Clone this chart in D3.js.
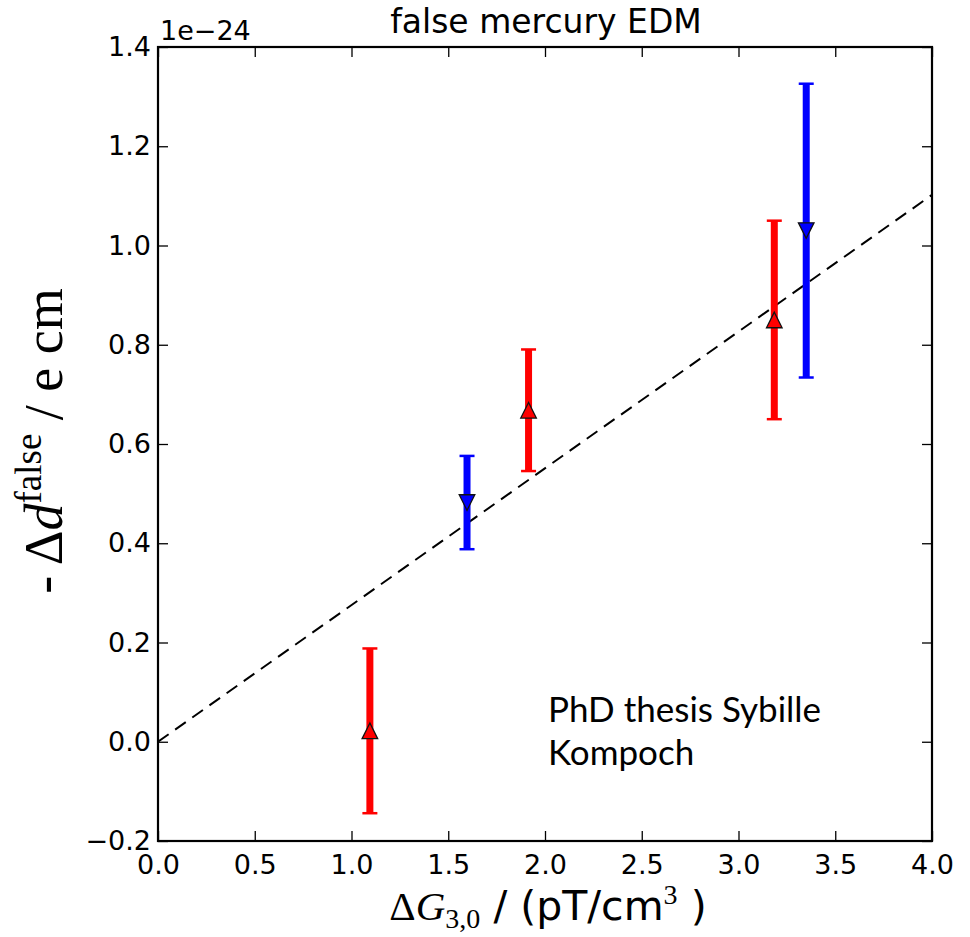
<!DOCTYPE html>
<html>
<head>
<meta charset="utf-8">
<script src="https://cdn.jsdelivr.net/npm/d3@7"></script>
<style>
  html, body { margin: 0; padding: 0; background: #fff; }
  svg { display: block; }
</style>
</head>
<body>
<svg id="chart" width="970" height="937"></svg>
<script>
// ---- data (y in units of 1e-24 e cm) ----
const xTicks = [0.0, 0.5, 1.0, 1.5, 2.0, 2.5, 3.0, 3.5, 4.0];
const yTicks = [-0.2, 0.0, 0.2, 0.4, 0.6, 0.8, 1.0, 1.2, 1.4];

const redX   = [1.095, 1.915, 3.185];
const redY   = [0.022, 0.668, 0.850];
const redErr = [0.166, 0.1225, 0.200];

const blueX   = [1.597, 3.350];
const blueY   = [0.482, 1.030];
const blueErr = [0.094, 0.296];

const fitSlope = 0.2755;
const fitIntercept = 0.0;
const fitX = [0.0, 4.0];

const titleText = "false mercury EDM";
const annotationLines = ["PhD thesis Sybille", "Kompoch"];

// ---- layout ----
const svg = d3.select("#chart");
const L = 158, R = 932, T = 47, B = 841;
const x = d3.scaleLinear().domain([0, 4]).range([L, R]);
const y = d3.scaleLinear().domain([-0.2, 1.4]).range([B, T]);

const sans = "'DejaVu Sans', sans-serif";
const serif = "'Liberation Serif', 'DejaVu Serif', serif";
const tickSize = 27;

// clip
svg.append("defs").append("clipPath").attr("id", "clip")
  .append("rect").attr("x", L).attr("y", T).attr("width", R - L).attr("height", B - T);

const plot = svg.append("g").attr("clip-path", "url(#clip)");

// fit line
plot.append("path")
  .datum(fitX.map(v => [v, fitIntercept + fitSlope * v]))
  .attr("d", d3.line().x(d => x(d[0])).y(d => y(d[1])))
  .attr("fill", "none").attr("stroke", "#000").attr("stroke-width", 2)
  .attr("stroke-dasharray", "13,8");

function drawSeries(xs, ys, errs, color, up) {
  const data = xs.map((v, i) => ({x: v, y: ys[i], e: errs[i]}));
  const g = plot.append("g");
  g.selectAll(".bar").data(data).enter().append("line")
    .attr("x1", d => x(d.x)).attr("x2", d => x(d.x))
    .attr("y1", d => y(d.y - d.e)).attr("y2", d => y(d.y + d.e))
    .attr("stroke", color).attr("stroke-width", 7);
  ["lo", "hi"].forEach(k => {
    g.selectAll(".cap" + k).data(data).enter().append("line")
      .attr("x1", d => x(d.x) - 7.5).attr("x2", d => x(d.x) + 7.5)
      .attr("y1", d => y(k === "lo" ? d.y - d.e : d.y + d.e))
      .attr("y2", d => y(k === "lo" ? d.y - d.e : d.y + d.e))
      .attr("stroke", color).attr("stroke-width", 2.5);
  });
  const s = 7.8;
  const tri = up
    ? `M0,${-s}L${-s},${s}L${s},${s}Z`
    : `M0,${s}L${-s},${-s}L${s},${-s}Z`;
  g.selectAll(".mk").data(data).enter().append("path")
    .attr("d", tri)
    .attr("transform", d => `translate(${x(d.x)},${y(d.y)})`)
    .attr("fill", color).attr("stroke", "#111").attr("stroke-width", 1.3)
    .attr("stroke-linejoin", "miter");
}
drawSeries(redX, redY, redErr, "#ff0000", true);
drawSeries(blueX, blueY, blueErr, "#0000ff", false);

// axes with inward ticks (all four sides)
const fmt = d3.format(".1f");
const minusFmt = v => fmt(v).replace("-", "\u2212");

const xAxisB = d3.axisBottom(x).tickValues(xTicks).tickSize(-10).tickPadding(14).tickFormat(minusFmt);
const xAxisT = d3.axisTop(x).tickValues(xTicks).tickSize(-10).tickFormat("");
const yAxisL = d3.axisLeft(y).tickValues(yTicks).tickSize(-10).tickPadding(7).tickFormat(minusFmt);
const yAxisR = d3.axisRight(y).tickValues(yTicks).tickSize(-10).tickFormat("");

function styleAxis(g) {
  g.select(".domain").remove();
  g.selectAll(".tick line").attr("stroke", "#000").attr("stroke-width", 1.3);
  g.selectAll(".tick text").attr("font-family", sans).attr("font-size", tickSize).attr("fill", "#000");
}
svg.append("g").attr("transform", `translate(0,${B})`).call(xAxisB).call(styleAxis)
  .selectAll(".tick text").attr("dy", "0.71em");
svg.append("g").attr("transform", `translate(0,${T})`).call(xAxisT).call(styleAxis);
svg.append("g").attr("transform", `translate(${L},0)`).call(yAxisL).call(styleAxis);
svg.append("g").attr("transform", `translate(${R},0)`).call(yAxisR).call(styleAxis);

// frame
svg.append("rect").attr("x", L).attr("y", T).attr("width", R - L).attr("height", B - T)
  .attr("fill", "none").attr("stroke", "#000").attr("stroke-width", 2.2);

// offset text
svg.append("text").attr("x", 160).attr("y", 40)
  .attr("font-family", sans).attr("font-size", tickSize).attr("fill", "#000")
  .text("1e\u221224");

// title
svg.append("text").attr("x", (L + R) / 2 + 1).attr("y", 33).attr("text-anchor", "middle")
  .attr("font-family", sans).attr("font-size", 33).attr("fill", "#000")
  .text(titleText);

// x label
const xl = svg.append("text").attr("x", (L + R) / 2 + 3).attr("y", 920).attr("text-anchor", "middle")
  .attr("font-size", 41).attr("fill", "#000");
xl.append("tspan").attr("font-family", serif).text("\u0394");
xl.append("tspan").attr("font-family", serif).attr("font-style", "italic").text("G");
xl.append("tspan").attr("font-family", serif).attr("font-size", 28).attr("dy", 8).text("3,0");
xl.append("tspan").attr("font-family", sans).attr("dy", -8).text(" / (pT/cm");
xl.append("tspan").attr("font-family", serif).attr("font-size", 28).attr("dy", -16).text("3");
xl.append("tspan").attr("font-family", sans).attr("dy", 16).text(" )");

// y label
const yl = svg.append("text")
  .attr("transform", `translate(62,${(T + B) / 2 - 3}) rotate(-90)`)
  .attr("text-anchor", "middle").attr("font-family", serif).attr("font-size", 54).attr("fill", "#000");
yl.append("tspan").text("- \u0394");
yl.append("tspan").attr("font-style", "italic").text("d");
yl.append("tspan").attr("font-size", 37).attr("dy", -21).text("false");
yl.append("tspan").attr("dy", 21).text(" / e cm");

// annotation
const ann = svg.append("text").attr("font-family", "Lato, 'Open Sans', sans-serif")
  .attr("font-size", 35).attr("fill", "#000");
annotationLines.forEach((t, i) => {
  ann.append("tspan").attr("x", 548).attr("y", 722 + i * 43).text(t);
});
</script>
</body>
</html>
